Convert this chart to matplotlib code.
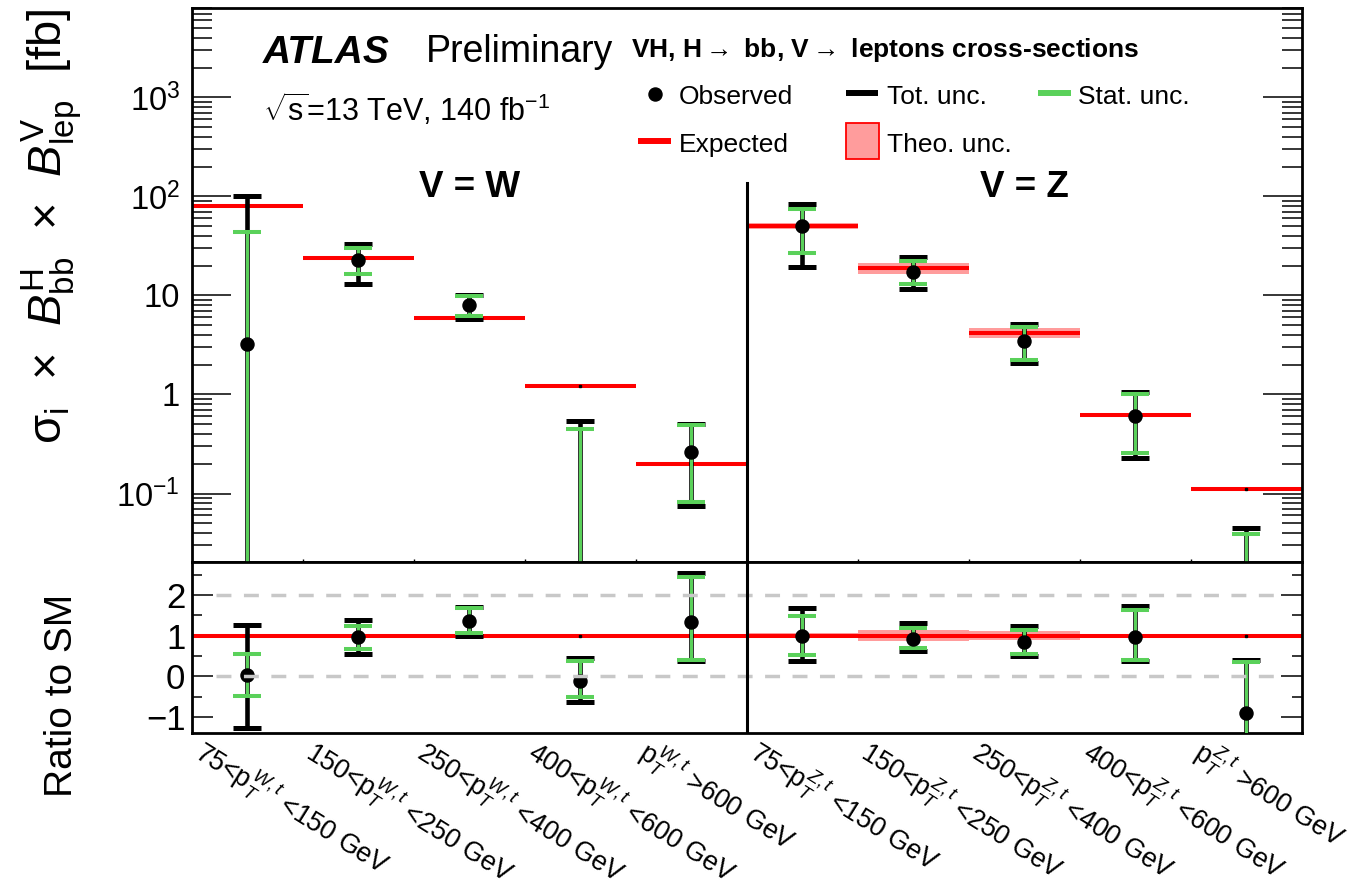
import matplotlib
matplotlib.use("Agg")
import matplotlib.pyplot as plt
import numpy as np
from matplotlib.lines import Line2D
from matplotlib.patches import Rectangle
from matplotlib.ticker import FixedLocator, FixedFormatter, NullFormatter, MultipleLocator, LogLocator
from matplotlib.transforms import ScaledTranslation

plt.rcParams["font.family"] = ["Liberation Sans", "DejaVu Sans"]
plt.rcParams["mathtext.fontset"] = "custom"
plt.rcParams["mathtext.rm"] = "Liberation Sans"
plt.rcParams["mathtext.it"] = "Liberation Sans:italic"
plt.rcParams["mathtext.bf"] = "Liberation Sans:bold"
plt.rcParams["mathtext.sf"] = "Liberation Sans"
plt.rcParams["axes.unicode_minus"] = True

# ---------------- data (fb) ----------------
bin_labels = [
    r"75<$\mathrm{p}_{T}^{W,t}$ <150 GeV",
    r"150<$\mathrm{p}_{T}^{W,t}$ <250 GeV",
    r"250<$\mathrm{p}_{T}^{W,t}$ <400 GeV",
    r"400<$\mathrm{p}_{T}^{W,t}$ <600 GeV",
    r"$\mathrm{p}_{T}^{W,t}$ >600 GeV",
    r"75<$\mathrm{p}_{T}^{Z,t}$ <150 GeV",
    r"150<$\mathrm{p}_{T}^{Z,t}$ <250 GeV",
    r"250<$\mathrm{p}_{T}^{Z,t}$ <400 GeV",
    r"400<$\mathrm{p}_{T}^{Z,t}$ <600 GeV",
    r"$\mathrm{p}_{T}^{Z,t}$ >600 GeV",
]
expected = [80.0, 24.1, 5.9, 1.22, 0.200, 50.5, 18.8, 4.16, 0.622, 0.111]
theo_rel = [0.02, 0.02, 0.02, 0.02, 0.03, 0.07, 0.13, 0.115, 0.04, 0.02]
observed = [3.2, 23.0, 7.97, -0.14, 0.265, 50.4, 17.4, 3.50, 0.608, -0.100]
tot_up = [97.8, 10.4, 2.13, 0.677, 0.240, 34.0, 7.3, 1.66, 0.462, 0.145]
tot_dn = [104.8, 9.9, 2.17, 0.64, 0.19, 31.1, 5.7, 1.43, 0.379, 0.095]
stat_up = [40.8, 7.0, 1.87, 0.593, 0.222, 23.9, 4.8, 1.28, 0.398, 0.139]
stat_dn = [41.6, 6.6, 1.70, 0.494, 0.183, 23.5, 4.3, 1.27, 0.353, 0.085]

# ---------------- styling ----------------
GREEN = "#5ad15a"
RED = "#ff0000"
PINK = "#ff9c9c"
GRAY = "#c8c8c8"

W_PX, H_PX, DPI = 1360, 894, 100


def fx(px):
    return px / W_PX


def fy(py):
    return 1 - py / H_PX


fig = plt.figure(figsize=(W_PX / DPI, H_PX / DPI), dpi=DPI)

L, R = 191.7, 1301.5
T1, B1, B2 = 7.9, 562.3, 733.3
ax1 = fig.add_axes([fx(L), fy(B1), (R - L) / W_PX, (B1 - T1) / H_PX])
ax2 = fig.add_axes([fx(L), fy(B2), (R - L) / W_PX, (B2 - B1) / H_PX])

n = len(expected)
x = np.arange(n)
exp_a = np.array(expected)
obs_a = np.array(observed)
theo_a = np.array(theo_rel)
tu, td = np.array(tot_up), np.array(tot_dn)
su, sd = np.array(stat_up), np.array(stat_dn)

ratio = obs_a / exp_a

err_kw_tot = dict(fmt="none", ecolor="black", elinewidth=3.3, capsize=10, capthick=3.6, zorder=3)
err_kw_stat = dict(fmt="none", ecolor=GREEN, elinewidth=2.2, capsize=10, capthick=2.9, zorder=4)

# ---------------- top panel ----------------
ax1.set_yscale("log")
for i in range(n):
    lo, hi = i - 0.5, i + 0.5
    ax1.fill_between([lo, hi], exp_a[i] * (1 - theo_a[i]), exp_a[i] * (1 + theo_a[i]),
                     color=PINK, lw=0, zorder=1)
    ax1.plot([lo, hi], [exp_a[i], exp_a[i]], color=RED, lw=2.9, solid_capstyle="butt", zorder=2)
ax1.plot(x, exp_a, "s", color="black", ms=1.5, zorder=2.5)
ax1.errorbar(x, obs_a, yerr=[td, tu], **err_kw_tot)
ax1.errorbar(x, obs_a, yerr=[sd, su], **err_kw_stat)
ax1.plot(x, obs_a, "o", color="black", ms=9.4, zorder=5)

ax1.axvline(4.5, ymin=0, ymax=(B1 - 182.7) / (B1 - T1), color="black", lw=2.2, zorder=6)

ax1.set_xlim(-0.5, n - 0.5)
ax1.set_ylim(0.0202, 8000)
ax1.yaxis.set_major_locator(FixedLocator([0.1, 1, 10, 100, 1000]))
ax1.yaxis.set_major_formatter(FixedFormatter([r"$10^{-1}$", "1", "10", r"$10^{2}$", r"$10^{3}$"]))
ax1.yaxis.set_minor_locator(LogLocator(base=10, subs=np.arange(2, 10), numticks=20))
ax1.yaxis.set_minor_formatter(NullFormatter())
ax1.tick_params(axis="y", which="major", direction="in", length=28, width=1.1,
                left=True, right=True, labelsize=23.5, pad=8.5)
ax1.tick_params(axis="y", which="minor", direction="in", length=14.4, width=1.1,
                left=True, right=True)
ax1.set_xticks(np.arange(0.5, n - 0.5, 1.0))
ax1.tick_params(axis="x", which="major", direction="in", length=2, width=1,
                bottom=True, top=False, labelbottom=False)
ax1.tick_params(axis="x", which="minor", bottom=False, top=False)

ax1.text(2, (B1 - 196.7) / (B1 - T1), "V = W", transform=ax1.get_xaxis_transform(),
         ha="center", va="baseline", fontsize=26.5, fontweight="bold")
ax1.text(7, (B1 - 196.7) / (B1 - T1), "V = Z", transform=ax1.get_xaxis_transform(),
         ha="center", va="baseline", fontsize=26.5, fontweight="bold")

# ---------------- ratio panel ----------------
ax2.axhline(1.0, color=RED, lw=2.9, zorder=2)
for i in range(n):
    ax2.fill_between([i - 0.5, i + 0.5], 1 - theo_a[i], 1 + theo_a[i], color=PINK, lw=0, zorder=1)
ax2.plot(x, np.ones(n), "s", color="black", ms=1.5, zorder=2.5)
ax2.errorbar(x, ratio, yerr=[td / exp_a, tu / exp_a], **err_kw_tot)
ax2.errorbar(x, ratio, yerr=[sd / exp_a, su / exp_a], **err_kw_stat)
ax2.plot(x, ratio, "o", color="black", ms=9.4, zorder=5)
for yv in (0.0, 2.0):
    ax2.axhline(yv, xmin=0.0216, xmax=0.982, color=GRAY, lw=2.5, dashes=(4.3, 3.6), zorder=6)
ax2.axvline(4.5, color="black", lw=2.2, zorder=7)

ax2.set_xlim(-0.5, n - 0.5)
ax2.set_ylim(-1.4, 2.8)
ax2.yaxis.set_major_locator(MultipleLocator(1))
ax2.yaxis.set_minor_locator(MultipleLocator(0.5))
ax2.tick_params(axis="y", which="major", direction="in", length=15, width=1.1,
                left=True, right=True, labelsize=25, pad=4.5)
ax2.tick_params(axis="y", which="minor", direction="in", length=7.2, width=1.1,
                left=True, right=True)
ax2.set_xticks([])

for ax in (ax1, ax2):
    for sp in ax.spines.values():
        sp.set_linewidth(2.0)

# bin labels under the ratio panel
off = ScaledTranslation(-40 / DPI, -1.0 / DPI, fig.dpi_scale_trans)
for i, lab in enumerate(bin_labels):
    ax2.text(i, 0, lab, transform=ax2.get_xaxis_transform() + off,
             rotation=-32, rotation_mode="anchor", ha="left", va="top", fontsize=19.3)

# axis titles
fig.text(fx(52), fy(226),
         r"σ$_{\mathrm{i}}$  ×  $B^{\mathrm{H}}_{\mathrm{bb}}$  ×  $B^{\mathrm{V}}_{\mathrm{lep}}$  [fb]",
         rotation=90, ha="center", va="center", fontsize=34)
fig.text(fx(62), fy(695), "Ratio to SM", rotation=90, ha="center", va="center", fontsize=28)

# header texts
fig.text(fx(262.5), fy(63.3), "ATLAS", fontsize=28, fontweight="bold", fontstyle="italic", va="baseline")
fig.text(fx(425.7), fy(62), "Preliminary", fontsize=27, va="baseline")
fig.text(fx(630.7), fy(57), r"VH, H$\rightarrow$ bb, V$\rightarrow$ leptons cross-sections",
         fontsize=19, fontweight="bold", va="baseline")
fig.text(fx(263), fy(120.7), r"$\sqrt{\mathrm{s}}$=13 TeV, 140 fb$^{\mathrm{-1}}$", fontsize=22, va="baseline")

# legend
tf = fig.transFigure
fig.add_artist(Line2D([fx(655)], [fy(93.5)], marker="o", ms=9.4, color="black", transform=tf))
fig.add_artist(Line2D([fx(845.7), fx(878.3)], [fy(92.5)] * 2, color="black", lw=4.3,
                      solid_capstyle="butt", transform=tf))
fig.add_artist(Line2D([fx(1037.5), fx(1070.5)], [fy(92.5)] * 2, color=GREEN, lw=4.3,
                      solid_capstyle="butt", transform=tf))
fig.add_artist(Line2D([fx(637.7), fx(671)], [fy(141)] * 2, color=RED, lw=4.3,
                      solid_capstyle="butt", transform=tf))
fig.add_artist(Rectangle((fx(845.5), fy(159)), (879.3 - 845.5) / W_PX, (159 - 123.3) / H_PX,
                         facecolor=PINK, edgecolor=RED, lw=1.3, transform=tf))
leg_fs = 19
fig.text(fx(679), fy(104), "Observed", fontsize=leg_fs, va="baseline")
fig.text(fx(887.3), fy(104), "Tot. unc.", fontsize=leg_fs, va="baseline")
fig.text(fx(1077.8), fy(104), "Stat. unc.", fontsize=leg_fs, va="baseline")
fig.text(fx(679), fy(152.3), "Expected", fontsize=leg_fs, va="baseline")
fig.text(fx(887.3), fy(152.3), "Theo. unc.", fontsize=leg_fs, va="baseline")

fig.savefig("out.png", dpi=DPI)
